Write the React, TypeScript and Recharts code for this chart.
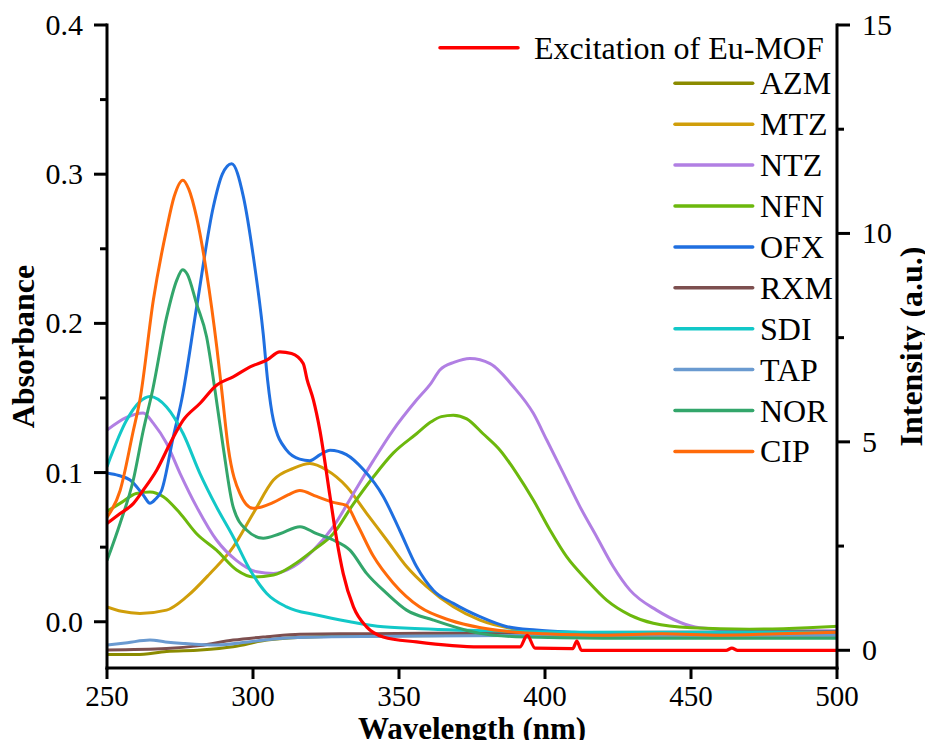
import React from 'react';
import { ComposedChart, Line, XAxis, YAxis } from 'recharts';

type P = [number, number];

// Wavelength (nm) vs absorbance (left axis)
const AZM: P[] = [[250, -0.022], [260, -0.022], [270.4, -0.02], [282, -0.019], [293.2, -0.0168], [304.7, -0.0123], [321.8, -0.01], [340, -0.0095], [380, -0.009], [440, -0.009], [500, -0.009]];
const MTZ: P[] = [[250, 0.01], [255, 0.007], [261.3, 0.0056], [270.4, 0.0078], [277.3, 0.0168], [285.3, 0.0324], [293.2, 0.05], [300.1, 0.0727], [307, 0.095], [313.8, 0.1028], [319.5, 0.106], [325.2, 0.1017], [332.1, 0.0905], [338.9, 0.0727], [345.8, 0.0548], [352.6, 0.037], [359.5, 0.0235], [368.6, 0.01], [377.7, 0.0011], [390, -0.005], [400, -0.007], [440, -0.008], [500, -0.008]];
const NTZ: P[] = [[250, 0.1285], [256.7, 0.137], [262.4, 0.14], [265.9, 0.133], [270.4, 0.1196], [275, 0.0995], [280.7, 0.077], [287.5, 0.0548], [294.4, 0.041], [301.3, 0.0335], [307, 0.0324], [313.8, 0.0369], [320.7, 0.048], [327.5, 0.0637], [334.4, 0.086], [341.2, 0.108], [348, 0.1285], [356, 0.1486], [361, 0.16], [364, 0.1687], [369, 0.174], [374.3, 0.1765], [381.2, 0.173], [389.2, 0.1575], [396, 0.1397], [400.6, 0.1218], [406.3, 0.0995], [412, 0.077], [417.7, 0.057], [423.4, 0.0369], [429.1, 0.0212], [438.2, 0.0078], [453, -0.004], [470, -0.006], [500, -0.006]];
const NFN: P[] = [[250, 0.074], [255, 0.08], [260, 0.086], [264.7, 0.087], [269.3, 0.0838], [275, 0.0727], [280.7, 0.059], [287.5, 0.048], [294.4, 0.0347], [300.1, 0.03], [307, 0.0313], [313.8, 0.038], [320.7, 0.048], [327.5, 0.059], [334.4, 0.079], [341.2, 0.097], [348, 0.113], [356, 0.126], [361, 0.134], [364.5, 0.1375], [368.6, 0.1385], [373.2, 0.136], [378.8, 0.126], [384.6, 0.115], [390.3, 0.0995], [396, 0.0816], [401.7, 0.0615], [407.4, 0.0436], [414.3, 0.028], [421.1, 0.0145], [429.1, 0.0045], [437.1, -0.001], [450, -0.004], [470, -0.005], [490, -0.004], [500, -0.003]];
const OFX: P[] = [[250, 0.0997], [254, 0.098], [257.9, 0.095], [262.4, 0.085], [264.7, 0.0795], [266.5, 0.082], [268.7, 0.088], [272.7, 0.124], [275.6, 0.149], [280.7, 0.211], [286.4, 0.278], [289.5, 0.3], [292.7, 0.307], [296.7, 0.285], [300.1, 0.245], [303.5, 0.193], [305, 0.162], [307, 0.135], [311.5, 0.115], [316, 0.109], [319.5, 0.108], [323, 0.112], [326.4, 0.115], [332, 0.112], [337.8, 0.102], [344.6, 0.084], [350.3, 0.061], [356, 0.037], [361.8, 0.021], [368.6, 0.0123], [377.7, 0.0034], [387, -0.0033], [397, -0.0056], [410, -0.007], [430, -0.008], [460, -0.008], [500, -0.008]];
const RXM: P[] = [[250, -0.019], [270.4, -0.018], [281.8, -0.016], [293.2, -0.0123], [304.7, -0.01], [316.1, -0.0083], [340, -0.008], [380, -0.0075], [440, -0.007], [500, -0.0067]];
const SDI: P[] = [[250, 0.104], [256.7, 0.135], [261, 0.147], [264.7, 0.151], [270.4, 0.144], [276.1, 0.126], [281.8, 0.0995], [287.5, 0.077], [293.2, 0.057], [299, 0.0347], [304.7, 0.019], [311.5, 0.01], [321.8, 0.0045], [333.2, 0.0], [344.6, -0.0034], [361.8, -0.005], [380, -0.006], [420, -0.007], [460, -0.007], [500, -0.007]];
const TAP: P[] = [[250, -0.0156], [257, -0.014], [264.7, -0.0123], [270, -0.0135], [276.1, -0.0145], [287.5, -0.0156], [299, -0.0134], [310.4, -0.011], [327.5, -0.01], [360, -0.0095], [420, -0.009], [500, -0.009]];
const NOR: P[] = [[250, 0.041], [254.5, 0.066], [259, 0.095], [262.4, 0.128], [265.6, 0.155], [270.4, 0.204], [273.9, 0.229], [275.9, 0.236], [277.5, 0.233], [280.7, 0.213], [284.1, 0.191], [287, 0.155], [289.8, 0.117], [293.2, 0.077], [297.8, 0.0615], [303.5, 0.056], [309.2, 0.059], [316.1, 0.0637], [321.8, 0.059], [327.5, 0.0548], [333.2, 0.048], [338.9, 0.0324], [345.8, 0.019], [352.6, 0.0078], [361.8, 0.0011], [377.7, -0.0078], [390, -0.01], [420, -0.011], [460, -0.011], [500, -0.011]];
const CIP: P[] = [[250, 0.07], [254.5, 0.088], [259, 0.128], [261.3, 0.149], [265.9, 0.216], [270.4, 0.263], [273, 0.285], [276, 0.296], [278, 0.29], [280.7, 0.271], [284.1, 0.234], [287.6, 0.184], [289.3, 0.155], [291.5, 0.117], [295.5, 0.086], [300, 0.076], [307, 0.08], [312, 0.085], [316, 0.088], [321.8, 0.084], [327.5, 0.08], [332, 0.078], [335.5, 0.066], [341.2, 0.044], [348, 0.026], [357, 0.01], [367.5, 0.001], [378, -0.004], [390, -0.007], [400, -0.008], [420, -0.009], [440, -0.008], [460, -0.009], [480, -0.008], [500, -0.007]];

// Excitation of Eu-MOF, intensity (right axis)
const EXCITATION: P[] = [[250, 3.04], [254.5, 3.28], [259, 3.52], [262.4, 3.84], [267, 4.32], [271.6, 4.96], [276.1, 5.52], [281.8, 5.92], [287.5, 6.36], [293.2, 6.56], [299, 6.8], [304.7, 6.96], [309.2, 7.16], [313.2, 7.12], [317.2, 6.88], [318.5, 6.5], [320.7, 6.0], [322.9, 5.28], [326.4, 3.68], [328.7, 2.64], [330.9, 1.84], [334.4, 1.04], [338.9, 0.56], [344.6, 0.32], [356, 0.2], [377.7, 0.08], [391.4, 0.08], [393.9, 0.36], [396.6, 0.05], [409.5, 0.04], [410.9, 0.22], [412.5, 0.0], [462, 0.0], [464, 0.05], [466, 0.0], [500, 0.0]];

const X_TICKS = [250, 300, 350, 400, 450, 500];
const LEFT_TICKS = [0, 0.05, 0.1, 0.15, 0.2, 0.25, 0.3, 0.35, 0.4];
const RIGHT_TICKS = [0, 2.5, 5, 7.5, 10, 12.5, 15];

const EXC_NAME = 'Excitation of Eu-MOF';
const SERIES = [
  { name: 'AZM', data: AZM, color: '#8B8B00' },
  { name: 'MTZ', data: MTZ, color: '#D09E0A' },
  { name: 'NTZ', data: NTZ, color: '#B17FE3' },
  { name: 'NFN', data: NFN, color: '#6CB80D' },
  { name: 'OFX', data: OFX, color: '#1F6FE0' },
  { name: 'RXM', data: RXM, color: '#7D4F4F' },
  { name: 'SDI', data: SDI, color: '#12C8C8' },
  { name: 'TAP', data: TAP, color: '#6A9AD0' },
  { name: 'NOR', data: NOR, color: '#33A66B' },
  { name: 'CIP', data: CIP, color: '#FF6A0A' },
];
const EXC_COLOR = '#FF0000';

const FONT = "'Liberation Serif','Times New Roman',serif";
const toRows = (pts: P[]) => pts.map(([x, y]) => ({ x, y }));

function BottomTick(props: any) {
  const { x, y, payload } = props;
  return (
    <g>
      <line x1={x} x2={x} y1={y} y2={y + 11} stroke="#000" strokeWidth={3} />
      <text x={x} y={y + 38} textAnchor="middle" fontSize={29} fontFamily={FONT} fill="#000">
        {payload.value}
      </text>
    </g>
  );
}

function LeftTick(props: any) {
  const { x, y, payload } = props;
  const v = payload.value as number;
  const major = Math.abs(v * 10 - Math.round(v * 10)) < 1e-6;
  return (
    <g>
      <line x1={x} x2={x - (major ? 13 : 7)} y1={y} y2={y} stroke="#000" strokeWidth={3} />
      {major && (
        <text x={x - 24} y={y + 10} textAnchor="end" fontSize={30} fontFamily={FONT} fill="#000">
          {v.toFixed(1)}
        </text>
      )}
    </g>
  );
}

function RightTick(props: any) {
  const { x, y, payload } = props;
  const v = payload.value as number;
  const major = Math.abs(v / 5 - Math.round(v / 5)) < 1e-6;
  return (
    <g>
      <line x1={x} x2={x + (major ? 13 : 7)} y1={y} y2={y} stroke="#000" strokeWidth={3} />
      {major && (
        <text x={x + 25} y={y + 10} textAnchor="start" fontSize={30} fontFamily={FONT} fill="#000">
          {v}
        </text>
      )}
    </g>
  );
}

const AXIS_LINE = { stroke: '#000', strokeWidth: 3, strokeLinecap: 'square' as const };

export default function App() {
  return (
    <div style={{ position: 'relative', width: 917, height: 732 }}>
      <ComposedChart width={917} height={732} margin={{ top: 17, right: 0, bottom: 0, left: 0 }}>
        <XAxis
          xAxisId="b"
          dataKey="x"
          type="number"
          domain={[250, 500]}
          ticks={X_TICKS}
          interval={0}
          allowDataOverflow
          height={72}
          tickSize={0}
          tickMargin={0}
          tickLine={false}
          axisLine={AXIS_LINE}
          tick={<BottomTick />}
        />
        <XAxis
          xAxisId="t"
          orientation="top"
          type="number"
          domain={[250, 500]}
          allowDataOverflow
          height={0}
          tick={false}
          tickLine={false}
          axisLine={AXIS_LINE}
        />
        <YAxis
          yAxisId="l"
          type="number"
          domain={[-0.031, 0.4]}
          ticks={LEFT_TICKS}
          interval={0}
          allowDataOverflow
          width={99}
          tickSize={0}
          tickMargin={0}
          tickLine={false}
          axisLine={AXIS_LINE}
          tick={<LeftTick />}
        />
        <YAxis
          yAxisId="r"
          orientation="right"
          type="number"
          domain={[-0.425, 15]}
          ticks={RIGHT_TICKS}
          interval={0}
          allowDataOverflow
          width={88}
          tickSize={0}
          tickMargin={0}
          tickLine={false}
          axisLine={AXIS_LINE}
          tick={<RightTick />}
        />
        {SERIES.map((s) => (
          <Line
            key={s.name}
            name={s.name}
            xAxisId="b"
            yAxisId="l"
            data={toRows(s.data)}
            dataKey="y"
            type="monotone"
            stroke={s.color}
            strokeWidth={3}
            dot={false}
            activeDot={false}
            isAnimationActive={false}
          />
        ))}
        <Line
          name={EXC_NAME}
          xAxisId="b"
          yAxisId="r"
          data={toRows(EXCITATION)}
          dataKey="y"
          type="monotone"
          stroke={EXC_COLOR}
          strokeWidth={3.2}
          dot={false}
          activeDot={false}
          isAnimationActive={false}
        />
      </ComposedChart>
      <svg
        width={917}
        height={740}
        style={{ position: 'absolute', left: 0, top: 0, overflow: 'visible', pointerEvents: 'none' }}
      >
        <g fontFamily={FONT} fill="#000">
          <line x1={432} x2={510} y1={39.7} y2={39.7} stroke={EXC_COLOR} strokeWidth={3.5} strokeLinecap="round" />
          <text x={526} y={50.7} fontSize={32}>{EXC_NAME}</text>
          {SERIES.map((s, i) => {
            const y = 75.3 + i * 40.9;
            return (
              <g key={s.name}>
                <line x1={667} x2={744.7} y1={y} y2={y} stroke={s.color} strokeWidth={3.5} strokeLinecap="round" />
                <text x={752} y={y + 11} fontSize={32}>{s.name}</text>
              </g>
            );
          })}
          <text x={464} y={731} textAnchor="middle" fontSize={31} fontWeight="bold">Wavelength (nm)</text>
          <text x={25.5} y={338.5} transform="rotate(-90 25.5 338.5)" textAnchor="middle" fontSize={32} fontWeight="bold">Absorbance</text>
          <text x={914} y={338.5} transform="rotate(-90 914 338.5)" textAnchor="middle" fontSize={32} fontWeight="bold">Intensity (a.u.)</text>
        </g>
      </svg>
    </div>
  );
}
